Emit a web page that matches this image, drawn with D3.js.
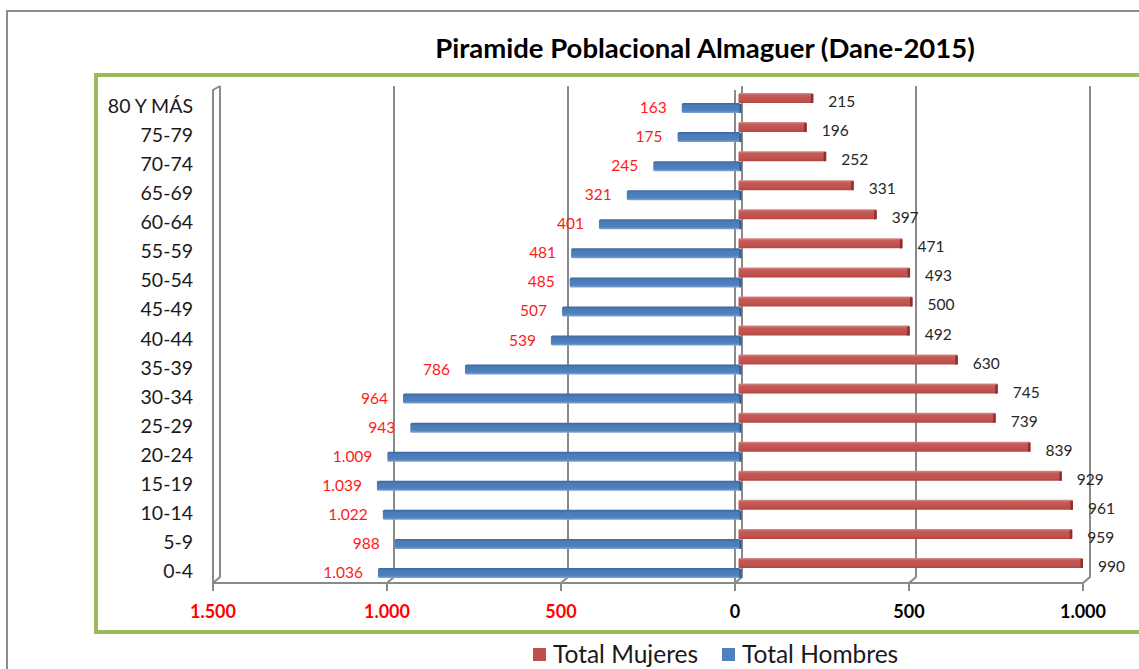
<!DOCTYPE html>
<html lang="es">
<head>
<meta charset="utf-8">
<script src="https://d3js.org/d3.v7.min.js"></script>
<style>
  body { margin: 0; background: #fff; }
  svg { display: block; font-family: Lato, "Open Sans", sans-serif; }
</style>
</head>
<body>
<svg id="chart"></svg>
<script>
  // datos DANE 2015 - Almaguer
  const grupos = ["80 Y MÁS", "75-79", "70-74", "65-69", "60-64", "55-59", "50-54", "45-49",
                  "40-44", "35-39", "30-34", "25-29", "20-24", "15-19", "10-14", "5-9", "0-4"];
  const hombres = [163, 175, 245, 321, 401, 481, 485, 507, 539, 786, 964, 943, 1009, 1039, 1022, 988, 1036];
  const mujeres = [215, 196, 252, 331, 397, 471, 493, 500, 492, 630, 745, 739, 839, 929, 961, 959, 990];
  const ticks = [-1500, -1000, -500, 0, 500, 1000];
  const series = ["Total Mujeres", "Total Hombres"];

  let width = 1139, height = 669;
  const depthX = 7, depthY = 6;
  const floorY = 583;

  const es = d3.formatLocale({ decimal: ",", thousands: ".", grouping: [3], currency: ["$", ""] });
  const fmt = es.format(",d");

  let svg = d3.select("#chart").attr("width", width).attr("height", height);

  let x = d3.scaleLinear().domain([-1500, 1000]).range([213, 1083]);
  let y = d3.scaleBand().domain(grupos).range([91.5, 585.5]);
  const cy = (d) => y(d) + y.bandwidth() / 2;

  let defs = svg.append("defs");
  function grad(id, stops) {
    let g = defs.append("linearGradient").attr("id", id)
      .attr("x1", 0).attr("y1", 0).attr("x2", 0).attr("y2", 1);
    stops.forEach((s) => g.append("stop").attr("offset", s[0]).attr("stop-color", s[1]));
  }
  grad("gBlue", [[0, "#3a67a0"], [0.25, "#4a7bb7"], [0.75, "#4f81bd"], [1, "#7ea4d2"]]);
  grad("gRed", [[0, "#d88a88"], [0.25, "#c45a57"], [0.75, "#c0504d"], [1, "#b04643"]]);

  // outer frame
  svg.append("rect").attr("x", 7).attr("y", 11).attr("width", 1200).attr("height", 700)
    .attr("fill", "none").attr("stroke", "#8c8c8c").attr("stroke-width", 2);

  // plot area frame
  svg.append("rect").attr("x", 96).attr("y", 75).attr("width", 1100).attr("height", 557)
    .attr("fill", "none").attr("stroke", "#9bbb59").attr("stroke-width", 4);

  svg.append("text")
    .attr("x", 705).attr("y", 58)
    .attr("text-anchor", "middle")
    .style("font-weight", "700").style("font-size", "27.5px").style("fill", "#000")
    .text("Piramide Poblacional Almaguer (Dane-2015)");

  // 3D walls and gridlines
  let grid = svg.append("g").attr("fill", "none").attr("stroke", "#8a8a8a").attr("stroke-width", 2);
  grid.selectAll("path.back")
    .data(ticks)
    .enter()
    .append("path")
    .attr("class", "back")
    .attr("d", (d) => `M${x(d) + depthX},86V${floorY - depthY}L${x(d)},${floorY}V591`);

  // left wall front edge and top
  grid.append("path")
    .attr("d", `M${x(-1500)},${floorY}V90L${x(-1500) + depthX},86`);
  // vertical axis at 0
  grid.append("path").attr("d", `M${x(0)},90V${floorY}`);
  // floor
  grid.append("path").attr("d", `M${x(-1500)},${floorY}H${x(1000)}`);

  // bars
  const off = 3.5;
  let bars = svg.append("g");

  bars.selectAll("rect.h")
    .data(grupos)
    .enter()
    .append("rect")
    .attr("class", "h")
    .attr("x", (d, i) => x(-hombres[i]) + off)
    .attr("y", (d) => cy(d) - 3)
    .attr("width", (d, i) => x(0) - x(-hombres[i]) + 2)
    .attr("height", 10)
    .attr("rx", 1.5)
    .attr("fill", "url(#gBlue)");

  bars.selectAll("rect.m")
    .data(grupos)
    .enter()
    .append("rect")
    .attr("class", "m")
    .attr("x", x(0) + off)
    .attr("y", (d) => cy(d) - 13)
    .attr("width", (d, i) => x(mujeres[i]) - x(0))
    .attr("height", 10)
    .attr("rx", 1)
    .attr("fill", "url(#gRed)");

  // end caps of the 3D bars
  bars.selectAll("rect.mc")
    .data(grupos)
    .enter()
    .append("rect")
    .attr("class", "mc")
    .attr("x", (d, i) => x(mujeres[i]) + off - 2.5)
    .attr("y", (d) => cy(d) - 12)
    .attr("width", 2.5)
    .attr("height", 9)
    .attr("fill", "#8f302e");

  bars.selectAll("rect.hc")
    .data(grupos)
    .enter()
    .append("rect")
    .attr("class", "hc")
    .attr("x", x(0) + off + 1)
    .attr("y", (d) => cy(d) - 2)
    .attr("width", 2)
    .attr("height", 9)
    .attr("fill", "#2f5a8e");

  // data labels
  svg.append("g").selectAll("text")
    .data(grupos)
    .enter()
    .append("text")
    .attr("x", (d, i) => x(-hombres[i]) + off - 15)
    .attr("y", (d) => cy(d) + 7)
    .attr("text-anchor", "end")
    .style("font-size", "15.5px").style("fill", "#ff1a1a")
    .text((d, i) => fmt(hombres[i]));

  svg.append("g").selectAll("text")
    .data(grupos)
    .enter()
    .append("text")
    .attr("x", (d, i) => x(mujeres[i]) + off + 15)
    .attr("y", (d) => cy(d) + 1)
    .style("font-size", "15.5px").style("fill", "#262626")
    .text((d, i) => fmt(mujeres[i]));

  // category labels
  svg.append("g").selectAll("text")
    .data(grupos)
    .enter()
    .append("text")
    .attr("x", 193)
    .attr("y", (d) => cy(d) + 7)
    .attr("text-anchor", "end")
    .style("font-size", "19.5px").style("fill", "#1a1a1a")
    .text((d) => d);

  // value axis labels
  svg.append("g").selectAll("text")
    .data(ticks)
    .enter()
    .append("text")
    .attr("x", (d) => x(d))
    .attr("y", 618)
    .attr("text-anchor", "middle")
    .style("font-size", "18px").style("font-weight", "700")
    .style("fill", (d) => (d < 0 ? "#ff0000" : "#000"))
    .text((d) => fmt(Math.abs(d)));

  // legend
  let legend = svg.append("g").attr("transform", "translate(533,648)");
  let lx = [0, 189];
  let lcol = ["#c0504d", "#4f81bd"];
  let item = legend.selectAll("g")
    .data(series)
    .enter()
    .append("g")
    .attr("transform", (d, i) => `translate(${lx[i]},0)`);
  item.append("rect").attr("width", 13).attr("height", 13).attr("fill", (d, i) => lcol[i]);
  item.append("text")
    .attr("x", 20).attr("y", 15)
    .style("font-size", "24.5px").style("fill", "#1a1a1a")
    .text((d) => d);
</script>
</body>
</html>
